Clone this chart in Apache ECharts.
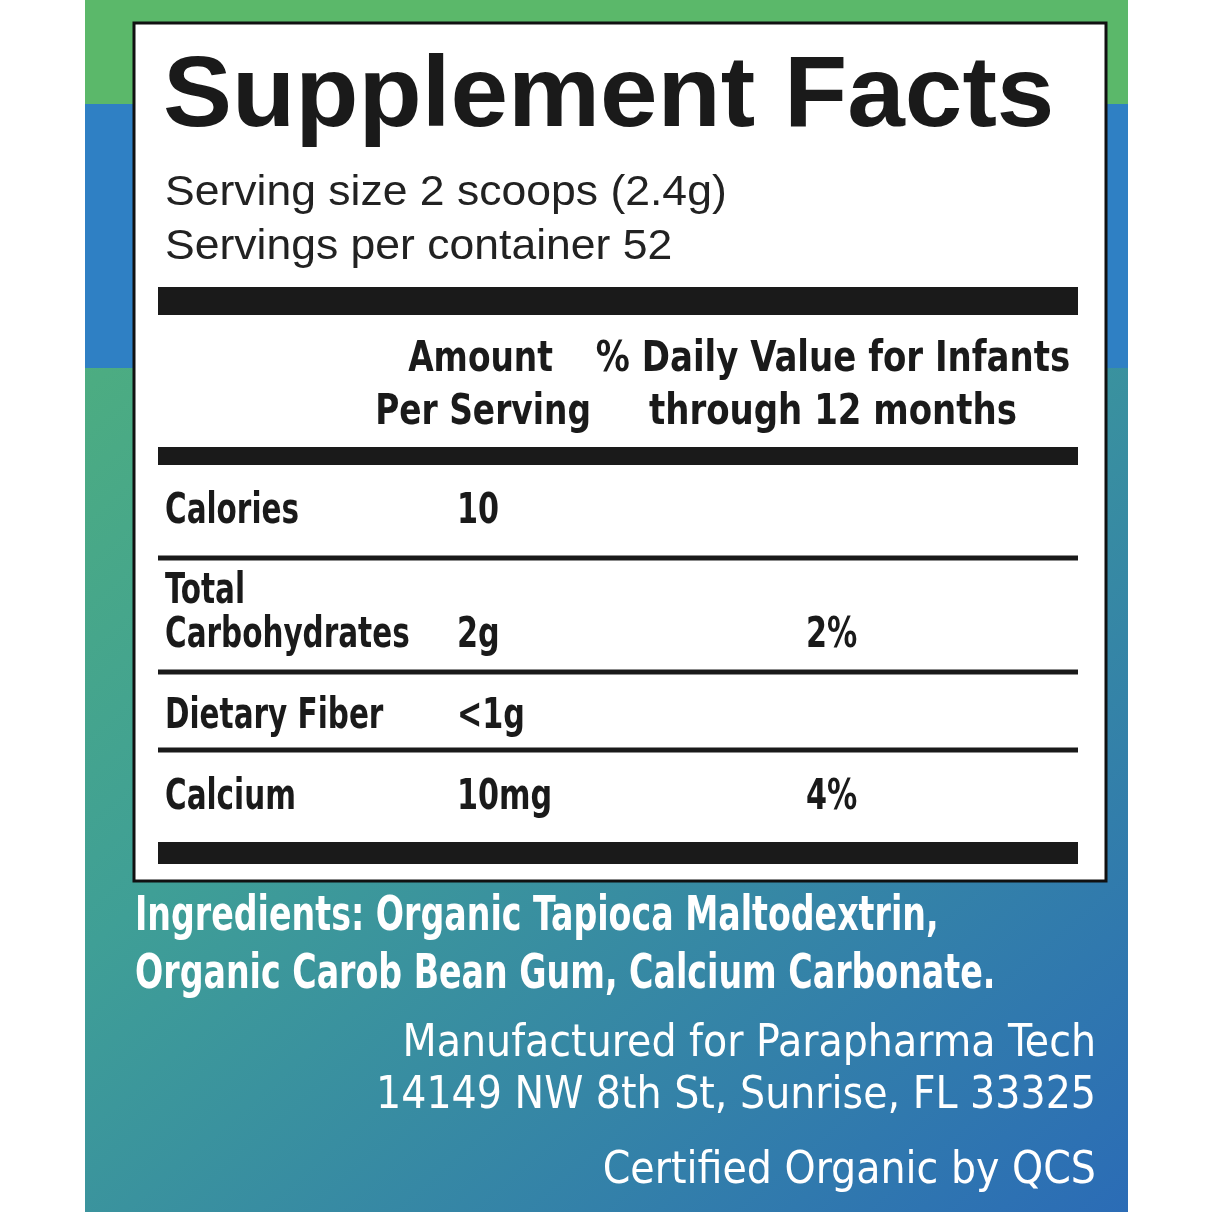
<!DOCTYPE html>
<html lang="en">
<head>
<meta charset="UTF-8">
<title>Supplement Facts</title>
<script src="https://cdn.jsdelivr.net/npm/echarts@6/dist/echarts.min.js"></script>
<style>
  html, body { margin: 0; padding: 0; background: #fff; }
  #main { width: 1212px; height: 1212px; }
</style>
</head>
<body>
<div id="main"></div>
<script>
var titleText = 'Supplement Facts';
var servingLines = ['Serving size 2 scoops (2.4g)', 'Servings per container 52'];
var headAmount = ['Amount', 'Per Serving'];
var headDaily = ['% Daily Value for Infants', 'through 12 months'];
var rowNames = ['Calories', 'Total\nCarbohydrates', 'Dietary Fiber', 'Calcium'];
var rowAmounts = ['10', '2g', '<1g', '10mg'];
var rowDaily = ['', '2%', '', '4%'];
var ingredients = ['Ingredients: Organic Tapioca Maltodextrin,', 'Organic Carob Bean Gum, Calcium Carbonate.'];
var maker = ['Manufactured for Parapharma Tech', '14149 NW 8th St, Sunrise, FL 33325'];
var certified = 'Certified Organic by QCS';

var narrow = "'DejaVu Sans Condensed','Liberation Sans',sans-serif";
var rowY = [512, 614, 717, 798];   // text centres
var ruleY = [558, 672, 750];

var g = [];
// text helper, sx squeezes the glyphs horizontally around the anchor
function txt(x, y, s, font, fill, align, sx, lh) {
  g.push({ type: 'text', x: x, y: y, scaleX: sx || 1,
    style: { text: s, font: font, fill: fill, textAlign: align || 'left', textVerticalAlign: 'middle', lineHeight: lh } });
}
// background panel
g.push({ type: 'rect', shape: { x: 85, y: 0, width: 1043, height: 1212 },
  style: { fill: new echarts.graphic.LinearGradient(0, 0, 1, 1, [
    { offset: 0, color: '#55b574' }, { offset: 0.45, color: '#3f9f96' }, { offset: 1, color: '#2b6cb6' }]) } });
g.push({ type: 'rect', shape: { x: 85, y: 0, width: 1043, height: 104 }, style: { fill: '#5bb86a' } });
g.push({ type: 'rect', shape: { x: 85, y: 104, width: 1043, height: 264 }, style: { fill: '#2f80c4' } });
// white facts box
g.push({ type: 'rect', shape: { x: 134, y: 23, width: 972, height: 858 },
  style: { fill: '#fff', stroke: '#111', lineWidth: 3 } });
txt(163, 98, titleText, "900 100px 'Liberation Sans',Arial,sans-serif", '#1a1a1a', 'left', 1.035);
servingLines.forEach(function (t, i) {
  txt(165, 193 + i * 54, t, "42px 'Liberation Sans',Arial,sans-serif", '#222', 'left', 1.06);
});
// thick bars
[[287, 28], [447, 18], [842, 22]].forEach(function (b) {
  g.push({ type: 'rect', shape: { x: 158, y: b[0], width: 920, height: b[1] }, style: { fill: '#1a1a1a' } });
});
ruleY.forEach(function (y) {
  g.push({ type: 'rect', shape: { x: 158, y: y - 2.5, width: 920, height: 5 }, style: { fill: '#1a1a1a' } });
});
var hf = "bold 42px " + narrow;
txt(553, 360, headAmount[0], hf, '#1a1a1a', 'right', 0.87);
txt(591, 413, headAmount[1], hf, '#1a1a1a', 'right', 0.87);
txt(833, 360, headDaily[0], hf, '#1a1a1a', 'center', 0.9);
txt(833, 413, headDaily[1], hf, '#1a1a1a', 'center', 0.9);
var rf = "bold 42px " + narrow;
rowNames.forEach(function (n, i) {
  txt(165, rowY[i], n, rf, '#1a1a1a', 'left', 0.78, 44);
  var ay = n.indexOf('\n') >= 0 ? rowY[i] + 22 : rowY[i];
  txt(457, ay, rowAmounts[i], rf, '#1a1a1a', 'left', 0.8);
  if (rowDaily[i]) txt(806, ay, rowDaily[i], rf, '#1a1a1a', 'left', 0.8);
});
ingredients.forEach(function (t, i) {
  txt(135, 918 + i * 58, t, "bold 48px " + narrow, '#fff', 'left', 0.77);
});
maker.forEach(function (t, i) {
  txt(1096, 1045 + i * 52, t, "44px " + narrow, '#fff', 'right', 1);
});
txt(1096, 1172, certified, "44px " + narrow, '#fff', 'right', 1);

var chart = echarts.init(document.getElementById('main'));
chart.setOption({ animation: false, graphic: { elements: g } });
</script>
</body>
</html>
